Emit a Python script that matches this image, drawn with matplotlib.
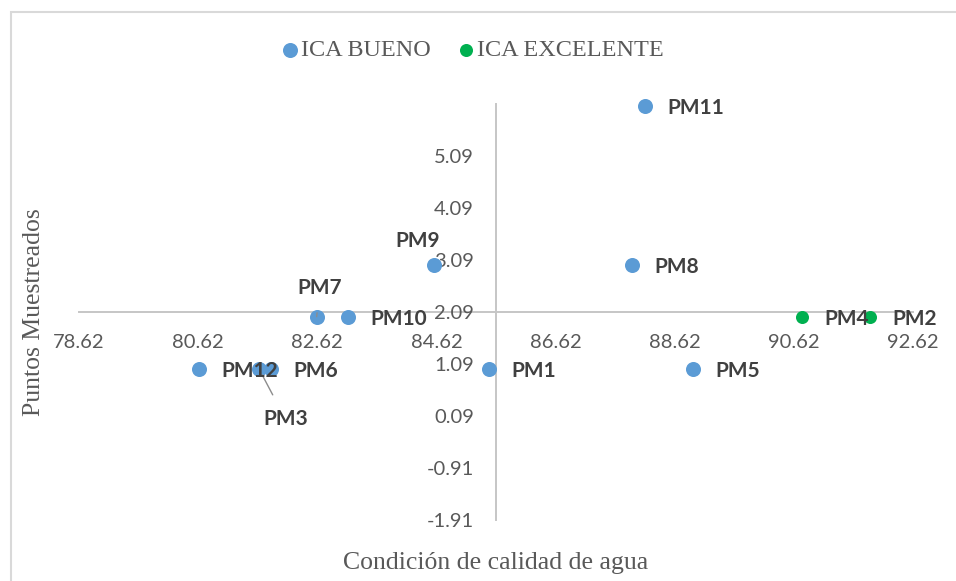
# Dispersión ICA: puntos muestreados vs condición de calidad de agua
import numpy as np
import matplotlib.pyplot as plt
from matplotlib.patches import Rectangle

# Datos
bueno_names = ["PM1", "PM3", "PM5", "PM6", "PM7", "PM8", "PM9", "PM10", "PM11", "PM12"]
bueno_x = [85.50, 81.64, 88.92, 81.84, 82.61, 87.90, 84.58, 83.13, 88.12, 80.63]
bueno_y = [1.0, 1.0, 1.0, 1.0, 2.0, 3.0, 3.0, 2.0, 6.05, 1.0]

excel_names = ["PM2", "PM4"]
excel_x = [91.89, 90.75]
excel_y = [2.0, 2.0]

x_ticks = [78.62, 80.62, 82.62, 84.62, 86.62, 88.62, 90.62, 92.62]
y_ticks = [-1.91, -0.91, 0.09, 1.09, 2.09, 3.09, 4.09, 5.09]

x_cross = 85.62
y_cross = 2.09

blue = "#5B9BD5"
green = "#00B050"
axis_gray = "#C6C6C6"
tick_col = "#595959"
lab_col = "#404040"

fig = plt.figure(figsize=(9.56, 5.81), dpi=100)
ax = fig.add_axes([79/956, 61/581, 834/956, 416/581])

ax.scatter(bueno_x, bueno_y, s=117, color=blue, zorder=3, label="ICA BUENO",
           linewidths=0, clip_on=False)
ax.scatter(excel_x, excel_y, s=88, color=green, zorder=3, label="ICA EXCELENTE",
           linewidths=0, clip_on=False)

ax.set_xlim(78.62, 92.62)
ax.set_ylim(-1.91, 6.09)
ax.set_xticks(x_ticks)
ax.set_yticks(y_ticks)
ax.set_xticklabels([f"{v:.2f}" for v in x_ticks])
ax.set_yticklabels([f"{v:.2f}" for v in y_ticks])

# ejes cruzados en el interior
for s in ["top", "right"]:
    ax.spines[s].set_visible(False)
ax.spines["left"].set_position(("data", x_cross))
ax.spines["bottom"].set_position(("data", y_cross))
for s in ["left", "bottom"]:
    ax.spines[s].set_color(axis_gray)
    ax.spines[s].set_linewidth(1.4)
    ax.spines[s].set_zorder(1)

ax.tick_params(axis="both", length=0, colors=tick_col)
ax.tick_params(axis="x", pad=16)
ax.tick_params(axis="y", pad=16)
for t in ax.get_xticklabels() + ax.get_yticklabels():
    t.set_fontfamily("Lato")
    t.set_fontsize(14.5)
    t.set_color(tick_col)

# etiquetas de los puntos
lab_kw = dict(fontsize=15, fontweight="bold", color=lab_col, family="Lato",
              textcoords="offset points", zorder=4)
special = {
    "PM9": ((-12, 17), "center", "center", False),
    "PM7": ((2, 21), "center", "center", True),
    "PM3": ((19, -36), "center", "center", True),
}
all_names = bueno_names + excel_names
all_x = bueno_x + excel_x
all_y = bueno_y + excel_y
for n, xv, yv in zip(all_names, all_x, all_y):
    if n in special:
        off, ha, va, leader = special[n]
        arrow = dict(arrowstyle="-", color="#8C8C8C", lw=1, shrinkA=9, shrinkB=5) if leader else None
        ax.annotate(n, (xv, yv), xytext=off, ha=ha, va=va, arrowprops=arrow, **lab_kw)
    else:
        ax.annotate(n, (xv, yv), xytext=(16.5, -1.5), ha="left", va="center", **lab_kw)

# títulos de ejes
fig.text(496/956, 1 - 563/581, "Condición de calidad de agua", ha="center", va="center",
         family="Liberation Serif", fontsize=18.5, color=tick_col)
fig.text(34/956, 1 - 312/581, "Puntos Muestreados", ha="center", va="center", rotation=90,
         family="Liberation Serif", fontsize=18.5, color=tick_col)

# leyenda
leg = fig.legend(loc="center", bbox_to_anchor=(473/956, 1 - 50/581), ncol=2, frameon=False,
                 handlelength=0.7, handletextpad=0.1, columnspacing=1.1, markerscale=1.0,
                 prop={"family": "Liberation Serif", "size": 17.5})
for t in leg.get_texts():
    t.set_color(tick_col)

# borde del área del gráfico
fig.patches.append(Rectangle((11/956, -0.1), 1.2, 1 - 12/581 + 0.1, transform=fig.transFigure,
                             fill=False, edgecolor="#D9D9D9", linewidth=1.5))

plt.savefig("out.png", dpi=100)
